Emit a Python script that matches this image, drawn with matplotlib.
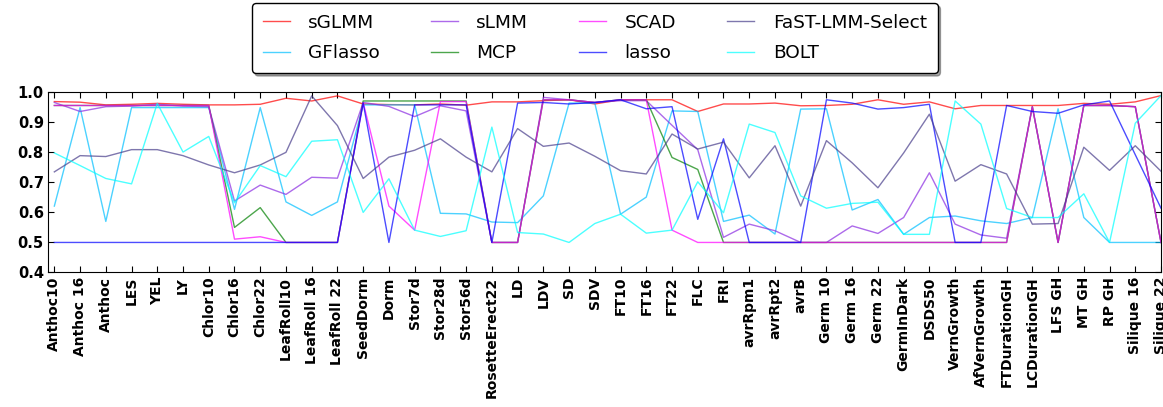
import numpy as np
import matplotlib
matplotlib.use('Agg')
import matplotlib.pyplot as plt

# phenotype names on the x axis
traits = ['Anthoc10', 'Anthoc 16', 'Anthoc', 'LES', 'YEL', 'LY', 'Chlor10', 'Chlor16',
          'Chlor22', 'LeafRoll10', 'LeafRoll 16', 'LeafRoll 22', 'SeedDorm', 'Dorm',
          'Stor7d', 'Stor28d', 'Stor56d', 'RosetteErect22', 'LD', 'LDV', 'SD', 'SDV',
          'FT10', 'FT16', 'FT22', 'FLC', 'FRI', 'avrRpm1', 'avrRpt2', 'avrB', 'Germ 10',
          'Germ 16', 'Germ 22', 'GermInDark', 'DSDS50', 'VernGrowth', 'AfVernGrowth',
          'FTDurationGH', 'LCDurationGH', 'LFS GH', 'MT GH', 'RP GH', 'Silique 16',
          'Silique 22']

sglmm = [0.969, 0.967, 0.958, 0.960, 0.963, 0.960, 0.958, 0.958, 0.960, 0.980, 0.971,
         0.988, 0.961, 0.959, 0.958, 0.961, 0.957, 0.968, 0.968, 0.972, 0.975, 0.961,
         0.975, 0.975, 0.975, 0.936, 0.961, 0.961, 0.964, 0.955, 0.956, 0.960, 0.975,
         0.960, 0.968, 0.945, 0.956, 0.956, 0.956, 0.956, 0.963, 0.960, 0.968, 0.989]

gflasso = [0.621, 0.949, 0.570, 0.949, 0.949, 0.949, 0.949, 0.610, 0.949, 0.635, 0.590,
           0.635, 0.958, 0.958, 0.958, 0.597, 0.595, 0.568, 0.566, 0.655, 0.964, 0.964,
           0.594, 0.651, 0.938, 0.936, 0.570, 0.591, 0.528, 0.944, 0.945, 0.608, 0.643,
           0.527, 0.583, 0.588, 0.572, 0.563, 0.583, 0.945, 0.583, 0.500, 0.500, 0.500]

slmm = [0.966, 0.936, 0.952, 0.954, 0.960, 0.954, 0.952, 0.638, 0.691, 0.660, 0.717,
        0.714, 0.966, 0.953, 0.919, 0.955, 0.938, 0.500, 0.500, 0.983, 0.975, 0.966,
        0.972, 0.972, 0.890, 0.809, 0.517, 0.561, 0.539, 0.500, 0.500, 0.555, 0.530,
        0.583, 0.732, 0.561, 0.525, 0.514, 0.952, 0.500, 0.956, 0.956, 0.952, 0.500]

mcp = [0.956, 0.956, 0.956, 0.956, 0.956, 0.956, 0.956, 0.550, 0.616, 0.500, 0.500,
       0.500, 0.971, 0.971, 0.971, 0.971, 0.971, 0.500, 0.500, 0.975, 0.975, 0.966,
       0.975, 0.975, 0.783, 0.743, 0.500, 0.500, 0.500, 0.500, 0.500, 0.500, 0.500,
       0.500, 0.500, 0.500, 0.500, 0.500, 0.952, 0.500, 0.956, 0.956, 0.952, 0.500]

scad = [0.956, 0.956, 0.956, 0.956, 0.956, 0.956, 0.956, 0.511, 0.519, 0.500, 0.500,
        0.500, 0.966, 0.621, 0.541, 0.969, 0.969, 0.500, 0.500, 0.975, 0.975, 0.966,
        0.975, 0.975, 0.541, 0.500, 0.500, 0.500, 0.500, 0.500, 0.500, 0.500, 0.500,
        0.500, 0.500, 0.500, 0.500, 0.500, 0.952, 0.500, 0.956, 0.956, 0.952, 0.500]

lasso = [0.500, 0.500, 0.500, 0.500, 0.500, 0.500, 0.500, 0.500, 0.500, 0.500, 0.500,
         0.500, 0.964, 0.500, 0.958, 0.958, 0.958, 0.500, 0.964, 0.966, 0.961, 0.966,
         0.975, 0.945, 0.952, 0.577, 0.845, 0.500, 0.500, 0.500, 0.975, 0.964, 0.944,
         0.949, 0.960, 0.500, 0.500, 0.956, 0.936, 0.930, 0.958, 0.971, 0.792, 0.614]

fastlmm = [0.735, 0.789, 0.786, 0.809, 0.809, 0.789, 0.758, 0.732, 0.758, 0.800, 0.988,
           0.889, 0.713, 0.784, 0.807, 0.845, 0.784, 0.735, 0.879, 0.820, 0.831, 0.787,
           0.739, 0.728, 0.861, 0.811, 0.834, 0.715, 0.822, 0.621, 0.839, 0.765, 0.682,
           0.798, 0.927, 0.704, 0.759, 0.728, 0.561, 0.563, 0.817, 0.740, 0.822, 0.737]

bolt = [0.798, 0.756, 0.713, 0.695, 0.963, 0.801, 0.853, 0.632, 0.756, 0.719, 0.837,
        0.842, 0.600, 0.712, 0.541, 0.520, 0.539, 0.884, 0.533, 0.528, 0.500, 0.563,
        0.594, 0.531, 0.541, 0.702, 0.599, 0.894, 0.866, 0.655, 0.614, 0.630, 0.634,
        0.527, 0.527, 0.971, 0.894, 0.613, 0.583, 0.583, 0.662, 0.500, 0.897, 0.989]

methods = ['sGLMM', 'GFlasso', 'sLMM', 'MCP', 'SCAD', 'lasso', 'FaST-LMM-Select', 'BOLT']
series = [sglmm, gflasso, slmm, mcp, scad, lasso, fastlmm, bolt]
colors = ['red', 'deepskyblue', 'blueviolet', 'green', 'magenta', 'blue',
          'darkslateblue', 'cyan']

fig = plt.figure(figsize=(11.63, 4.07), dpi=100)
ax = fig.add_axes([0.0413, 0.3305, 0.957, 0.4428])

x = np.arange(len(traits))
for name, vals, c in zip(methods, series, colors):
    ax.plot(x, vals, color=c, lw=1.0, alpha=0.7, label=name)

ax.set_xlim(-0.245, len(traits) - 1)
ax.set_ylim(0.4, 1.0)
ax.set_xticks(x)
ax.set_xticklabels(traits, rotation=90, fontsize=10, fontweight='bold')
ax.set_yticks(np.arange(0.4, 1.01, 0.1))
ax.set_yticklabels(['%.1f' % v for v in np.arange(0.4, 1.01, 0.1)],
                   fontsize=10.5, fontweight='bold')
ax.tick_params(direction='in', top=True, right=True, length=4, pad=3)

fig.legend(loc='upper center', bbox_to_anchor=(0.5115, 0.9926), ncol=4,
           fontsize=13.3, shadow=True, fancybox=True, handlelength=1.45,
           handletextpad=1.0, columnspacing=2.77, labelspacing=0.67,
           borderpad=0.59, borderaxespad=0.0, framealpha=1.0, edgecolor='black')

fig.savefig('out.png', dpi=100)
